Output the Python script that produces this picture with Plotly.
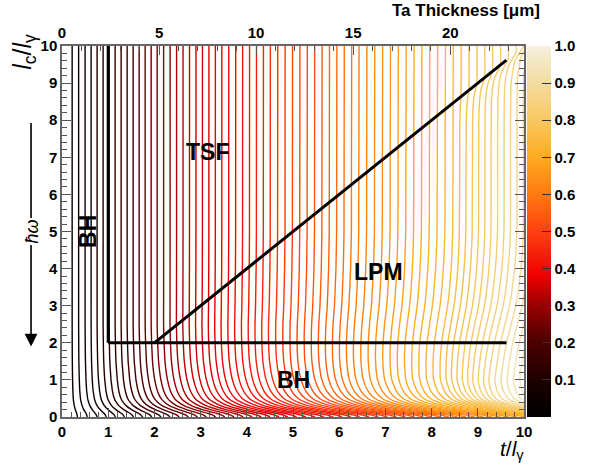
import numpy as np
import plotly.graph_objects as go
from plotly.colors import sample_colorscale

# ---- contour lines: x position (t/l_gamma) of each line at the top of the frame
LINE_T_TOP = [0.22, 0.36, 0.50, 0.63, 0.76, 0.89, 1.02, 1.15, 1.28, 1.41, 1.54, 1.67,
              1.80, 1.93, 2.06, 2.20, 2.34, 2.48, 2.62, 2.76, 2.90, 3.04, 3.18, 3.32,
              3.46, 3.61, 3.76, 3.91, 4.06, 4.21, 4.36, 4.51, 4.67, 4.83, 4.99, 5.15,
              5.31, 5.47, 5.63, 5.79, 5.95, 6.11, 6.27, 6.43, 6.60, 6.77, 6.94, 7.11,
              7.28, 7.45, 7.62, 7.79, 7.96, 8.13, 8.30, 8.47, 8.64, 8.81, 8.98, 9.15,
              9.32, 9.49, 9.66, 9.83, 10.0, 10.17, 10.34, 10.51, 10.68, 10.85, 11.02]
# level value (colour) of a line versus its top position
VALUE_AT_T = [0.0, 1.0, 2.5, 4.0, 5.0, 7.5, 10.0, 10.5, 11.0]
VALUE_V = [0.0, 0.12, 0.32, 0.42, 0.50, 0.69, 0.85, 0.91, 0.96]

# shape of the lines: x multiplier versus l_c, for thin (t=2) and thick (t=10) lines
PROFILE_LC = [10.0, 5.0, 4.0, 3.0, 2.5, 2.0, 1.5, 1.0, 0.7, 0.5, 0.4, 0.3, 0.2, 0.1, 0.05, 0.0]
FACTOR_THIN = [1.0, 1.0, 1.0, 1.0, 1.0, 1.005, 1.015, 1.04, 1.07, 1.11, 1.15, 1.21, 1.31, 1.44, 1.49, 1.52]
FACTOR_THICK = [1.0, 0.998, 0.993, 0.982, 0.972, 0.962, 0.955, 0.95, 0.955, 0.965, 0.98, 1.01, 1.06, 1.15, 1.20, 1.23]
PROFILE_T = [2.0, 10.0]

# extra lean just below the diagonal for the thickest lines
DIAG_T = [8.5, 9.5, 10.5, 11.5]
DIAG_DROP = [0.0, 0.02, 0.035, 0.045]
DIAG_U = [0.0, 0.9, 0.96, 1.0]
DIAG_SHAPE = [1.0, 1.0, 0.7, 0.0]

# palette
PAL_POS = [0.0, 0.1, 0.2, 0.3, 0.38, 0.5, 0.6, 0.7, 0.8, 0.9, 1.0]
PAL_COL = ['#000000', '#1e0000', '#4a0000', '#990000', '#ee0000', '#ff4010',
           '#ff7a10', '#ffaa20', '#f8c860', '#f3dca0', '#f5f0dc']
COLORSCALE = [[p, c] for p, c in zip(PAL_POS, PAL_COL)]

# region boundaries
BOUND_VERT_X = [1, 1]
BOUND_VERT_Y = [10, 2]
BOUND_HORZ_X = [1, 9.62]
BOUND_HORZ_Y = [2, 2]
BOUND_DIAG_X = [2, 9.62]
BOUND_DIAG_Y = [2, 9.62]

REGION_LABELS = [("TSF", 3.16, 7.15, 0), ("LPM", 6.86, 3.9, 0), ("BH", 5.0, 1.0, 0), ("BH", 0.55, 5.0, -90)]

FONT = "Liberation Sans"

fig = go.Figure()

vals = np.interp(LINE_T_TOP, VALUE_AT_T, VALUE_V)
cols = sample_colorscale(COLORSCALE, list(np.clip(vals, 0, 1)))
for t0, c in zip(LINE_T_TOP, cols):
    lc = set(PROFILE_LC)
    lc.update([t0 * u for u in DIAG_U if t0 * u <= 10])
    lc = np.array(sorted(lc, reverse=True))
    w = float(np.clip((t0 - PROFILE_T[0]) / (PROFILE_T[1] - PROFILE_T[0]), 0, 1))
    f_thin = np.interp(lc, PROFILE_LC[::-1], FACTOR_THIN[::-1])
    f_thick = np.interp(lc, PROFILE_LC[::-1], FACTOR_THICK[::-1])
    prof = (1 - w) * f_thin + w * f_thick
    drop = np.interp(t0, DIAG_T, DIAG_DROP)
    diag = 1 - drop * np.interp(np.clip(lc / t0, 0, 1), DIAG_U, DIAG_SHAPE)
    fig.add_trace(go.Scatter(x=t0 * prof * diag, y=lc, mode="lines",
                             line=dict(color=c, width=1.4, shape="spline", smoothing=0.5),
                             hoverinfo="skip", showlegend=False))

for bx, by in [(BOUND_VERT_X, BOUND_VERT_Y), (BOUND_HORZ_X, BOUND_HORZ_Y), (BOUND_DIAG_X, BOUND_DIAG_Y)]:
    fig.add_trace(go.Scatter(x=bx, y=by, mode="lines", line=dict(color="black", width=3),
                             hoverinfo="skip", showlegend=False))

# colour bar carrier
fig.add_trace(go.Scatter(x=[-5], y=[-5], mode="markers", hoverinfo="skip", showlegend=False,
                         marker=dict(color=[0.5], colorscale=COLORSCALE, cmin=0, cmax=1, showscale=True,
                                     colorbar=dict(x=1.0063, xanchor="left", y=0.5, yanchor="middle",
                                                   len=1, lenmode="fraction", thickness=24,
                                                   xpad=0, ypad=0, outlinewidth=0,
                                                   ticks="inside", ticklen=9, tickcolor="#333",
                                                   tickvals=[0.1 * i for i in range(1, 11)],
                                                   ticktext=["%.1f" % (0.1 * i) for i in range(1, 11)],
                                                   tickfont=dict(family=FONT, size=15, color="black", weight="bold")))))

for txt, x, y, ang in REGION_LABELS:
    fig.add_annotation(x=x, y=y, text=txt, showarrow=False, textangle=ang,
                       xanchor="center", yanchor="middle",
                       font=dict(family=FONT, size=23, color="black", weight="bold"))

tickfont = dict(family=FONT, size=15, color="black", weight="bold")
fig.update_layout(
    width=597, height=465, margin=dict(l=62, r=57, t=46, b=48),
    paper_bgcolor="white", plot_bgcolor="white",
    xaxis=dict(range=[0, 10], dtick=1, ticks="inside", ticklen=9, tickwidth=1, tickcolor="#555",
               minor=dict(dtick=0.2, ticks="inside", ticklen=5, tickcolor="#555"),
               showgrid=False, zeroline=False, showline=True, linecolor="#666", linewidth=1.5,
               tickfont=tickfont),
    yaxis=dict(range=[0, 10], dtick=1, ticks="inside", ticklen=9, tickwidth=1, tickcolor="#555",
               minor=dict(dtick=0.2, ticks="inside", ticklen=5, tickcolor="#555"),
               showgrid=False, zeroline=False, showline=True, linecolor="#666", linewidth=1.5,
               mirror="ticks", tickfont=tickfont),
    xaxis2=dict(range=[0, 23.8], overlaying="x", side="top", dtick=5, ticks="inside", ticklen=9,
                tickcolor="#555", minor=dict(dtick=1, ticks="inside", ticklen=5, tickcolor="#555"),
                showgrid=False, zeroline=False, showline=True, linecolor="#666", linewidth=1.5,
                tickfont=tickfont),
)
# dummy trace to activate top axis
fig.add_trace(go.Scatter(x=[-5], y=[-5], xaxis="x2", mode="markers", hoverinfo="skip", showlegend=False))

fig.add_annotation(xref="paper", yref="paper", x=0.874, y=1.097, xanchor="center", yanchor="middle",
                   text="Ta Thickness [μm]", showarrow=False,
                   font=dict(family=FONT, size=17, color="black", weight="bold"))
fig.add_annotation(xref="paper", yref="paper", x=1.005, y=-0.13, xanchor="right", yanchor="bottom",
                   text="<i>t</i>/<i>l</i><sub>γ</sub>", showarrow=False,
                   font=dict(family=FONT, size=21, color="black"))
fig.add_annotation(xref="paper", yref="paper", x=-0.084, y=0.985, xanchor="center", yanchor="middle",
                   textangle=-90, text="<i>l</i><sub>c</sub>/<i>l</i><sub>γ</sub>", showarrow=False,
                   font=dict(family=FONT, size=25, color="black"))
fig.add_annotation(xref="paper", yref="paper", x=-0.067, y=0.19, ax=0, ay=-225,
                   text="", showarrow=True, arrowhead=2, arrowsize=1.6, arrowwidth=1.6, arrowcolor="black")
fig.add_annotation(xref="paper", yref="paper", x=-0.067, y=0.5, xanchor="center", yanchor="middle",
                   textangle=-90, text="<i>ħω</i>", showarrow=False, bgcolor="white",
                   font=dict(family=FONT, size=18, color="black"))

fig.write_html("out.html")
